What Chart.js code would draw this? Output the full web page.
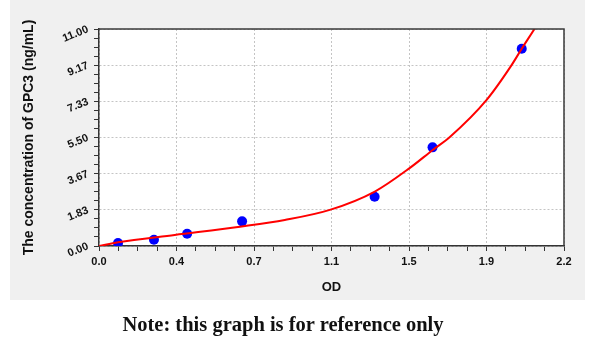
<!DOCTYPE html>
<html>
<head>
<meta charset="utf-8">
<script src="https://cdn.jsdelivr.net/npm/chart.js@4/dist/chart.umd.min.js"></script>
<style>
  html, body { margin: 0; padding: 0; background: #ffffff; }
  #wrap { position: relative; width: 600px; height: 356px; }
  #note { position: absolute; left: 0; width: 566px; top: 313px; text-align: center;
          font-family: "Liberation Serif", "DejaVu Serif", serif; font-weight: bold; font-size: 20.5px; color: #111; }
</style>
</head>
<body>
<div id="wrap">
  <canvas id="c" width="600" height="356"></canvas>
  <div id="note">Note: this graph is for reference only</div>
</div>
<script>
// Standards
const odValues   = [0.090, 0.260, 0.417, 0.677, 1.304, 1.578, 2.000];
const concValues = [0.156, 0.3125, 0.625, 1.25, 2.5, 5.0, 10.0];

// Fitted curve, sampled by reading the drawn red line
const curveX = [0.00, 0.09, 0.358, 0.667, 0.879, 1.092, 1.305, 1.471, 1.579, 1.660, 1.834, 1.952, 2.000, 2.063, 2.080];
const curveY = [0.00, 0.19, 0.56, 0.98, 1.32, 1.83, 2.76, 3.96, 4.87, 5.53, 7.41, 9.17, 10.00, 11.05, 11.35];

// Axis tick labels
const xTickLabels = ['0.0', '0.4', '0.7', '1.1', '1.5', '1.9', '2.2'];
const yTickLabels = ['0.00', '1.83', '3.67', '5.50', '7.33', '9.17', '11.00'];
const xMax = 2.2;
const yMax = 11.0;
const minorPerMajor = 4;

function buildTicks(max, count) {
  return function (scale) {
    const n = (count - 1) * minorPerMajor;
    const t = [];
    for (let i = 0; i <= n; i++) t.push({ value: max * i / n });
    scale.ticks = t;
  };
}

const bgPlugin = {
  id: 'bg',
  beforeDraw(chart) {
    const { ctx, chartArea } = chart;
    ctx.save();
    ctx.fillStyle = '#f0f0f0';
    ctx.fillRect(10, 0, 575, 300);
    ctx.fillStyle = '#ffffff';
    ctx.fillRect(chartArea.left, chartArea.top, chartArea.right - chartArea.left, chartArea.bottom - chartArea.top);
    ctx.restore();
  },
  afterDraw(chart) {
    const { ctx, chartArea } = chart;
    ctx.save();
    ctx.strokeStyle = '#3a3a3a';
    ctx.lineWidth = 1.5;
    ctx.beginPath();
    ctx.moveTo(chartArea.left, chartArea.top);
    ctx.lineTo(chartArea.right, chartArea.top);
    ctx.lineTo(chartArea.right, chartArea.bottom);
    ctx.stroke();
    ctx.restore();
  }
};

const gridColor = (ctx) => (ctx.index % minorPerMajor === 0 ? '#c4c4c4' : 'rgba(0,0,0,0)');

new Chart(document.getElementById('c'), {
  type: 'scatter',
  data: {
    datasets: [
      {
        type: 'line',
        data: curveX.map((x, i) => ({ x: x, y: curveY[i] })),
        borderColor: '#ff0000',
        borderWidth: 2,
        pointRadius: 0,
        fill: false,
        cubicInterpolationMode: 'monotone'
      },
      {
        type: 'scatter',
        data: odValues.map((x, i) => ({ x: x, y: concValues[i] })),
        backgroundColor: '#0000ff',
        borderColor: '#0000ff',
        pointRadius: 5,
        pointBorderWidth: 0
      }
    ]
  },
  options: {
    responsive: false,
    animation: false,
    events: [],
    layout: { padding: { left: 10, right: 36, top: 29, bottom: 61 } },
    plugins: { legend: { display: false }, tooltip: { enabled: false } },
    scales: {
      x: {
        type: 'linear',
        min: 0, max: xMax,
        afterBuildTicks: buildTicks(xMax, xTickLabels.length),
        afterFit(scale) { scale.height = 49; },
        grid: { color: gridColor, tickColor: '#333333', tickLength: 5, drawTicks: true },
        border: { color: '#333333', width: 1.5, dash: [2, 2] },
        ticks: {
          autoSkip: false, maxRotation: 0, minRotation: 0, padding: 4,
          color: '#111111',
          font: { family: 'Liberation Sans, Arial, sans-serif', size: 11, weight: 'bold' },
          callback: (v, i) => (i % minorPerMajor === 0 ? xTickLabels[i / minorPerMajor] : '')
        },
        title: {
          display: true, text: 'OD', color: '#111111', padding: { top: 0, bottom: 0 },
          font: { family: 'Liberation Sans, Arial, sans-serif', size: 13, weight: 'bold' }
        }
      },
      y: {
        type: 'linear',
        min: 0, max: yMax,
        afterBuildTicks: buildTicks(yMax, yTickLabels.length),
        afterFit(scale) { scale.width = 89; },
        grid: { color: gridColor, tickColor: '#333333', tickLength: 5, drawTicks: true },
        border: { color: '#333333', width: 1.5, dash: [2, 2] },
        ticks: {
          autoSkip: false, minRotation: 22, maxRotation: 22, padding: 6,
          color: '#111111',
          font: { family: 'Liberation Sans, Arial, sans-serif', size: 11, weight: 'bold' },
          callback: (v, i) => (i % minorPerMajor === 0 ? yTickLabels[i / minorPerMajor] : '')
        },
        title: {
          display: true, text: 'The concentration of GPC3 (ng/mL)', color: '#111111',
          padding: { top: 11, bottom: 0 },
          font: { family: 'Liberation Sans, Arial, sans-serif', size: 14, weight: 'bold' }
        }
      }
    }
  },
  plugins: [bgPlugin]
});
</script>
</body>
</html>
